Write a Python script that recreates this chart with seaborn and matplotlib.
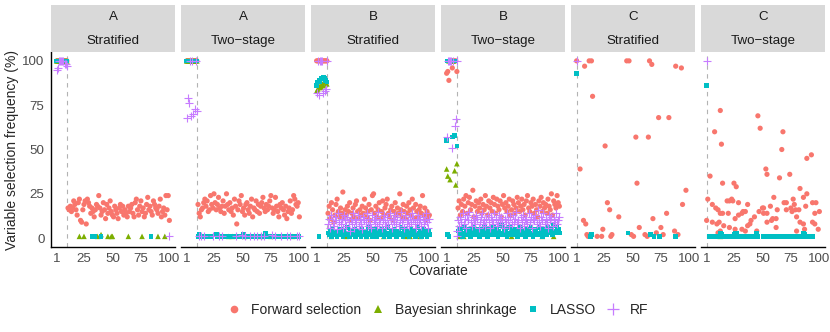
import matplotlib
matplotlib.use("Agg")
import matplotlib.pyplot as plt
import seaborn as sns
import pandas as pd
from matplotlib.lines import Line2D

methods = ["Forward selection", "Bayesian shrinkage", "LASSO", "RF"]
palette = {"Forward selection": "#F8766D", "Bayesian shrinkage": "#7CAE00",
           "LASSO": "#00BFC4", "RF": "#C77CFF"}
shapes = {"Forward selection": "o", "Bayesian shrinkage": "^", "LASSO": "s", "RF": "+"}

true_cov = [1, 2, 3, 4, 5, 6, 7, 8, 9, 10]
null_cov = list(range(11, 101))

# ---- scenario A, stratified
a_str_fs_true = [100, 100, 100, 100, 100, 100, 100, 100, 100, 100]
a_str_fs_null = [17, 16, 18, 15, 17, 21, 19, 16, 13, 20,
                 22, 10, 9, 16, 19, 21, 8, 22, 20, 18,
                 14, 17, 15, 12, 16, 19, 18, 24, 17, 13,
                 15, 20, 16, 11, 19, 14, 17, 21, 15, 13,
                 12, 18, 16, 14, 11, 17, 19, 15, 18, 13,
                 16, 14, 12, 18, 15, 17, 19, 14, 12, 20,
                 22, 16, 13, 18, 21, 15, 17, 12, 14, 19,
                 23, 16, 18, 15, 13, 21, 19, 17, 16, 14,
                 18, 22, 12, 15, 17, 13, 24, 16, 24, 10]
a_str_bs_true = [100, 100, 100, 100, 100, 100, 100, 100, 100, 100]
a_str_bs_x = [21, 25, 37, 40, 46, 49, 50, 64, 76, 90, 96]
a_str_bs_y = [1, 1, 1, 2, 1, 1, 1, 1, 1, 1, 1]
a_str_la_true = [100, 100, 100, 100, 100, 100, 100, 100, 100, 100]
a_str_la_x = [32, 34, 40, 84]
a_str_la_y = [1, 1, 1, 1]
a_str_rf_true = [95, 96, 100, 100, 100, 100, 100, 98, 98, 97]
a_str_rf_x = [100]
a_str_rf_y = [1]

# ---- scenario A, two-stage
a_two_fs_true = [100, 100, 100, 100, 100, 100, 100, 100, 100, 100]
a_two_fs_null = [19, 14, 12, 16, 17, 20, 22, 18, 21, 15,
                 16, 24, 19, 17, 25, 20, 16, 19, 23, 17,
                 15, 18, 21, 14, 18, 25, 19, 16, 20, 15,
                 17, 13, 22, 18, 8, 16, 21, 19, 24, 15,
                 17, 13, 19, 20, 16, 14, 18, 22, 12, 17,
                 16, 21, 15, 19, 14, 18, 20, 23, 17, 15,
                 19, 16, 18, 21, 24, 17, 14, 16, 23, 18,
                 15, 12, 19, 17, 20, 16, 13, 18, 11, 15,
                 17, 21, 14, 16, 24, 22, 19, 18, 20, 12]
a_two_bs_true = [100, 100, 100, 100, 100, 100, 100, 100, 100, 100]
a_two_bs_x = [38, 41, 52, 66, 75, 94]
a_two_bs_y = [1, 1, 1, 1, 1, 1]
a_two_la_true = [100, 100, 100, 100, 100, 100, 100, 100, 100, 100]
a_two_la_x = [11, 12, 13, 15, 17, 18, 21, 22, 27, 28, 30, 33, 36, 39, 43, 46, 49, 51, 53,
              55, 58, 61, 62, 64, 67, 70, 72, 76, 80, 83, 86, 88, 91, 93, 95, 97, 99]
a_two_la_y = [1, 2, 1, 1, 1, 1, 1, 1, 2, 1, 1, 1, 1, 1, 1, 1, 1, 2, 1,
              1, 1, 1, 1, 1, 1, 3, 1, 1, 1, 1, 1, 1, 1, 1, 1, 1, 1]
a_two_rf_true = [68, 79, 76, 100, 69, 100, 70, 73, 100, 72]
a_two_rf_x = [12, 14, 16, 24, 29, 32, 44, 50, 52, 57, 60, 63, 66, 69, 76, 79, 84, 89, 92, 98, 100]
a_two_rf_y = [1, 1, 1, 1, 1, 1, 1, 2, 1, 1, 1, 1, 1, 1, 2, 1, 1, 1, 1, 1, 1]

# ---- scenario B, stratified
b_str_fs_true = [100, 100, 100, 100, 100, 100, 100, 100, 100, 100]
b_str_fs_null = [14, 18, 11, 20, 16, 9, 13, 19, 22, 15,
                 12, 17, 14, 26, 11, 16, 13, 18, 15, 20,
                 10, 14, 17, 12, 19, 21, 15, 11, 16, 13,
                 18, 14, 22, 17, 12, 15, 19, 10, 16, 24,
                 25, 14, 18, 12, 16, 20, 11, 15, 21, 13,
                 17, 19, 22, 14, 12, 16, 18, 10, 15, 20,
                 13, 17, 14, 25, 16, 12, 19, 15, 11, 18,
                 14, 20, 16, 13, 22, 17, 11, 19, 15, 12,
                 16, 18, 14, 24, 13, 17, 10, 15, 12, 13]
b_str_bs_true = [83, 84, 85, 86, 85, 87, 86, 88, 89, 87]
b_str_bs_x = [14, 27, 45, 60, 79, 83, 92]
b_str_bs_y = [1, 1, 1, 1, 1, 1, 1]
b_str_la_true = [86, 88, 89, 88, 90, 90, 91, 90, 89, 88]
b_str_la_null = [3, 2, 4, 1, 5, 3, 2, 4, 1, 3,
                 2, 5, 3, 1, 4, 2, 3, 6, 2, 1,
                 4, 3, 2, 5, 1, 3, 4, 2, 3, 1,
                 5, 2, 3, 4, 1, 6, 3, 2, 4, 1,
                 3, 5, 2, 1, 4, 3, 2, 5, 3, 1,
                 4, 2, 6, 3, 1, 2, 4, 3, 5, 2,
                 1, 3, 4, 2, 6, 3, 1, 5, 2, 4,
                 3, 1, 2, 5, 3, 4, 2, 1, 3, 6,
                 2, 4, 1, 3, 5, 2, 3, 1, 4, 2]
b_str_la_x = [3]
b_str_la_y = [1]
b_str_rf_true = [82, 100, 81, 100, 100, 100, 82, 83, 84, 100]
b_str_rf_null = [8, 11, 6, 13, 9, 7, 12, 10, 5, 14,
                 9, 8, 11, 6, 13, 10, 7, 12, 9, 4,
                 11, 8, 14, 6, 10, 9, 13, 7, 11, 8,
                 5, 12, 10, 9, 14, 7, 11, 8, 6, 13,
                 10, 9, 12, 7, 15, 8, 11, 6, 10, 13,
                 9, 7, 12, 8, 14, 10, 6, 11, 9, 13,
                 8, 12, 7, 10, 15, 9, 11, 6, 13, 8,
                 10, 7, 12, 9, 14, 11, 8, 6, 10, 13,
                 9, 11, 7, 12, 8, 10, 14, 9, 6, 11]

# ---- scenario B, two-stage
b_two_fs_true = [93, 94, 89, 100, 100, 96, 100, 100, 100, 94]
b_two_fs_null = [17, 21, 13, 19, 15, 22, 18, 24, 14, 20,
                 23, 16, 19, 27, 12, 18, 21, 15, 20, 17,
                 22, 14, 19, 16, 24, 18, 13, 21, 17, 20,
                 15, 23, 19, 14, 22, 18, 16, 21, 12, 19,
                 24, 17, 20, 15, 18, 22, 13, 16, 21, 19,
                 14, 17, 23, 20, 15, 18, 22, 16, 19, 13,
                 21, 24, 17, 15, 20, 18, 22, 14, 19, 16,
                 12, 21, 18, 23, 15, 20, 17, 19, 14, 22,
                 18, 16, 25, 13, 21, 19, 17, 24, 20, 18]
b_two_bs_true = [39, 35, 100, 33, 100, 100, 100, 38, 30, 42]
b_two_bs_x = [12, 16, 58, 85, 95]
b_two_bs_y = [1, 1, 1, 1, 1]
b_two_la_true = [55, 100, 100, 100, 100, 57, 100, 58, 100, 52]
b_two_la_null = [4, 2, 5, 3, 1, 6, 3, 4, 2, 5,
                 3, 1, 4, 6, 2, 3, 5, 2, 4, 1,
                 3, 5, 2, 6, 4, 3, 1, 5, 3, 2,
                 4, 6, 3, 2, 5, 1, 4, 3, 7, 2,
                 3, 5, 4, 1, 3, 6, 2, 4, 3, 5,
                 2, 4, 1, 5, 3, 6, 2, 4, 3, 1,
                 5, 3, 4, 2, 6, 3, 1, 4, 5, 2,
                 3, 6, 2, 4, 1, 5, 3, 4, 2, 6,
                 4, 3, 5, 2, 7, 3, 4, 6, 5, 3]
b_two_la_x = [2, 3]
b_two_la_y = [2, 1]
b_two_rf_true = [57, 100, 100, 100, 100, 51, 100, 63, 67, 100]
b_two_rf_null = [10, 7, 12, 9, 14, 8, 11, 6, 13, 10,
                 15, 9, 7, 12, 10, 8, 13, 11, 6, 9,
                 12, 14, 8, 10, 7, 11, 13, 9, 6, 12,
                 10, 8, 14, 11, 7, 9, 13, 10, 12, 8,
                 6, 11, 9, 14, 10, 7, 12, 8, 13, 9,
                 11, 15, 8, 10, 6, 12, 9, 13, 7, 11,
                 10, 8, 14, 9, 12, 6, 11, 10, 13, 8,
                 16, 9, 7, 12, 10, 14, 8, 11, 9, 6,
                 13, 10, 12, 7, 11, 9, 14, 8, 10, 12]
b_two_rf_x = [10, 10]
b_two_rf_y = [4, 1]

# ---- scenario C, stratified
c_str_fs_x = [1, 4, 7, 8, 9, 10, 11, 12, 13, 14,
              15, 19, 23, 24, 26, 28, 30, 31, 32, 38,
              45, 47, 49, 51, 53, 54, 56, 61, 63, 64,
              65, 67, 68, 71, 73, 75, 77, 80, 82, 87,
              88, 90, 93, 94, 97]
c_str_fs_y = [100, 39, 10, 97, 8, 2, 1, 100, 2, 100,
              80, 1, 1, 5, 52, 20, 16, 1, 2, 12,
              100, 100, 2, 1, 57, 31, 6, 2, 1, 57,
              100, 98, 11, 3, 68, 6, 2, 14, 68, 4,
              97, 2, 96, 19, 27]
c_str_la_x = [1, 13, 14, 46, 66, 69, 74, 88]
c_str_la_y = [93, 1, 2, 3, 2, 1, 1, 1]
c_str_rf_x = [1]
c_str_rf_y = [100]

# ---- scenario C, two-stage
c_two_fs_x = [1, 2, 4, 6, 6, 8, 9, 10, 11, 11,
              12, 13, 13, 13, 14, 15, 15, 16, 19, 20,
              21, 21, 23, 24, 25, 26, 26, 27, 29, 29,
              32, 32, 33, 35, 35, 37, 37, 39, 40, 43,
              45, 46, 47, 48, 50, 51, 51, 53, 54, 54,
              54, 57, 58, 59, 60, 62, 62, 63, 65, 67,
              68, 69, 71, 71, 74, 75, 76, 77, 78, 79,
              80, 80, 82, 83, 83, 86, 86, 87, 88, 89,
              89, 93, 94, 94, 96, 96, 97, 99, 100]
c_two_fs_y = [10, 22, 35, 19, 9, 60, 17, 8, 16, 3,
              9, 72, 4, 14, 53, 31, 14, 7, 21, 14,
              21, 6, 22, 21, 31, 11, 5, 29, 20, 13,
              14, 5, 15, 15, 4, 7, 19, 8, 10, 12,
              4, 69, 15, 62, 17, 17, 14, 39, 36, 9,
              14, 18, 10, 11, 23, 11, 6, 16, 34, 50,
              60, 20, 20, 16, 36, 17, 15, 22, 19, 16,
              12, 4, 16, 28, 9, 8, 23, 5, 18, 45,
              25, 47, 9, 20, 8, 14, 20, 5, 15]
c_two_bs_x = [13]
c_two_bs_y = [1]
c_two_la_x = [1, 3, 4, 5, 6, 8, 10, 11, 12, 13,
              14, 15, 16, 17, 18, 22, 24, 25, 26, 27,
              28, 29, 31, 33, 35, 36, 37, 38, 39, 40,
              42, 43, 44, 45, 46, 51, 53, 55, 57, 59,
              61, 63, 66, 67, 68, 69, 70, 72, 74, 76,
              78, 80, 82, 83, 85, 86, 87, 88, 90, 92,
              94]
c_two_la_y = [86, 1, 1, 1, 1, 1, 1, 1, 1, 3,
              2, 1, 1, 1, 1, 1, 1, 2, 3, 3,
              1, 1, 1, 1, 1, 1, 1, 1, 1, 1,
              1, 1, 1, 3, 1, 1, 1, 1, 1, 1,
              1, 1, 1, 1, 1, 1, 1, 1, 1, 1,
              1, 1, 1, 1, 1, 3, 2, 1, 1, 1,
              1]
c_two_rf_x = [1]
c_two_rf_y = [100]


def frame(method, x, y):
    return pd.DataFrame({"covariate": x, "freq": y, "method": method})


panels = [
    ("A", "Stratified", 10.5, [
        frame("Forward selection", true_cov + null_cov, a_str_fs_true + a_str_fs_null),
        frame("Bayesian shrinkage", true_cov + a_str_bs_x, a_str_bs_true + a_str_bs_y),
        frame("LASSO", true_cov + a_str_la_x, a_str_la_true + a_str_la_y),
        frame("RF", true_cov + a_str_rf_x, a_str_rf_true + a_str_rf_y)]),
    ("A", "Two\u2212stage", 10.5, [
        frame("Forward selection", true_cov + null_cov, a_two_fs_true + a_two_fs_null),
        frame("Bayesian shrinkage", true_cov + a_two_bs_x, a_two_bs_true + a_two_bs_y),
        frame("LASSO", true_cov + a_two_la_x, a_two_la_true + a_two_la_y),
        frame("RF", true_cov + a_two_rf_x, a_two_rf_true + a_two_rf_y)]),
    ("B", "Stratified", 10.5, [
        frame("Forward selection", true_cov + null_cov, b_str_fs_true + b_str_fs_null),
        frame("Bayesian shrinkage", true_cov + b_str_bs_x, b_str_bs_true + b_str_bs_y),
        frame("LASSO", true_cov + null_cov + b_str_la_x, b_str_la_true + b_str_la_null + b_str_la_y),
        frame("RF", true_cov + null_cov, b_str_rf_true + b_str_rf_null)]),
    ("B", "Two\u2212stage", 10.5, [
        frame("Forward selection", true_cov + null_cov, b_two_fs_true + b_two_fs_null),
        frame("Bayesian shrinkage", true_cov + b_two_bs_x, b_two_bs_true + b_two_bs_y),
        frame("LASSO", true_cov + null_cov + b_two_la_x, b_two_la_true + b_two_la_null + b_two_la_y),
        frame("RF", true_cov + null_cov + b_two_rf_x, b_two_rf_true + b_two_rf_null + b_two_rf_y)]),
    ("C", "Stratified", 1.5, [
        frame("Forward selection", c_str_fs_x, c_str_fs_y),
        frame("LASSO", c_str_la_x, c_str_la_y),
        frame("RF", c_str_rf_x, c_str_rf_y)]),
    ("C", "Two\u2212stage", 1.5, [
        frame("Forward selection", c_two_fs_x, c_two_fs_y),
        frame("Bayesian shrinkage", c_two_bs_x, c_two_bs_y),
        frame("LASSO", c_two_la_x, c_two_la_y),
        frame("RF", c_two_rf_x, c_two_rf_y)]),
]

sns.set_style("white")
plt.rcParams["font.family"] = ["Liberation Sans", "DejaVu Sans"]

W, H = 830, 332
fig = plt.figure(figsize=(W / 100, H / 100), dpi=100)

for i, (scen, design, cut, series) in enumerate(panels):
    left = 51 + 130 * i
    ax = fig.add_axes([left / W, 1 - 247 / H, 124 / W, 195 / H])
    df = pd.concat(series, ignore_index=True)
    ax.axvline(cut, color="#B3B3B3", lw=0.8, ls=(0, (4, 4)), zorder=1)
    for m in methods:
        sub = df[df["method"] == m]
        if sub.empty:
            continue
        if m == "RF":
            sns.scatterplot(data=sub, x="covariate", y="freq", color=palette[m],
                            marker="+", s=30, linewidth=0.8, ax=ax, legend=False, zorder=3)
        else:
            size = {"Forward selection": 14, "Bayesian shrinkage": 16, "LASSO": 11}[m]
            sns.scatterplot(data=sub, x="covariate", y="freq", color=palette[m],
                            marker=shapes[m], s=size, linewidth=0, edgecolor="none",
                            ax=ax, legend=False, zorder=3)
    ax.set_xlim(1 - 4.95, 100 + 4.95)
    ax.set_ylim(-5, 105)
    ax.set_xticks([1, 25, 50, 75, 100])
    ax.set_yticks([0, 25, 50, 75, 100])
    ax.set_xlabel("")
    ax.set_ylabel("")
    for side in ["top", "right"]:
        ax.spines[side].set_visible(False)
    ax.spines["bottom"].set_color("black")
    ax.spines["bottom"].set_linewidth(1.0)
    if i == 0:
        ax.spines["left"].set_color("black")
        ax.spines["left"].set_linewidth(1.0)
    else:
        ax.spines["left"].set_visible(False)
        ax.tick_params(axis="y", left=False, labelleft=False)
    ax.tick_params(length=2.75, width=0.7, color="#333333", labelcolor="#4D4D4D",
                   labelsize=9.6, pad=1.8)

    # facet strips
    for (top, bot, label) in [(5, 28.5, scen), (29, 52, design)]:
        st = fig.add_axes([left / W, 1 - bot / H, 124 / W, (bot - top) / H])
        st.set_facecolor("#D9D9D9")
        st.set_xticks([])
        st.set_yticks([])
        for sp in st.spines.values():
            sp.set_visible(False)
        st.text(0.5, 0.47, label, ha="center", va="center", fontsize=9.6,
                color="#1A1A1A", transform=st.transAxes)

fig.text(12 / W, 1 - 149.5 / H, "Variable selection frequency (%)", rotation=90,
         ha="center", va="center", fontsize=10)
fig.text(438 / W, 1 - 271 / H, "Covariate", ha="center", va="center", fontsize=10)

handles = []
for m in methods:
    if m == "RF":
        handles.append(Line2D([], [], ls="", marker="+", color=palette[m],
                              markersize=9, markeredgewidth=0.9))
    else:
        ms = {"Forward selection": 5.5, "Bayesian shrinkage": 6, "LASSO": 5}[m]
        handles.append(Line2D([], [], ls="", marker=shapes[m], color=palette[m],
                              markersize=ms, markeredgewidth=0))
fig.legend(handles, methods, loc="center", bbox_to_anchor=(438 / W, 1 - 310 / H),
           ncol=4, frameon=False, fontsize=10, handlelength=1.0, handletextpad=0.72,
           columnspacing=0.7, borderpad=0)

fig.savefig("out.png", dpi=100)
